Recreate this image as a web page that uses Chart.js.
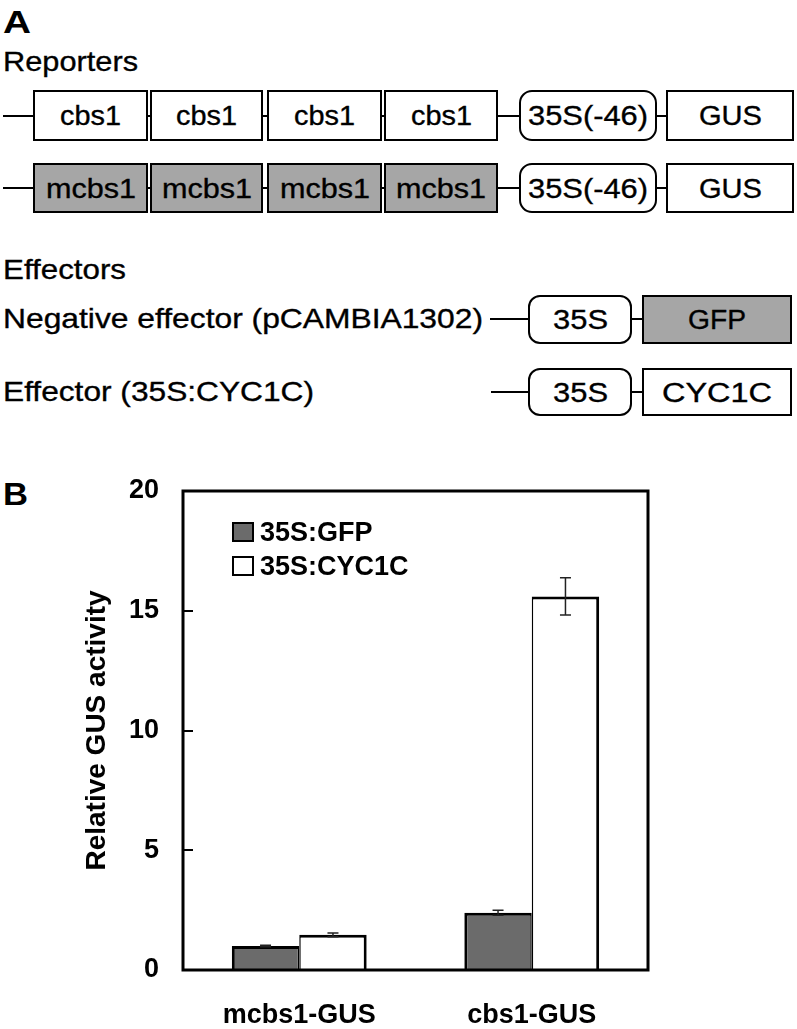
<!DOCTYPE html>
<html><head><meta charset="utf-8">
<script src="https://cdn.jsdelivr.net/npm/chart.js@4.4.1/dist/chart.umd.min.js"></script>
<style>
html,body{margin:0;padding:0;background:#fff;}
body{width:797px;height:1029px;position:relative;overflow:hidden;font-family:"Liberation Sans",Arial,sans-serif;color:#000;}
.t{position:absolute;white-space:nowrap;line-height:1;transform-origin:0 0;-webkit-text-stroke:0.35px #000;}
.b{position:absolute;box-sizing:border-box;border:2px solid #000;background:#fff;}
.l{position:absolute;height:2px;background:#000;}
#chartBox{position:absolute;left:0;top:470px;width:797px;height:559px;}
</style></head><body>
<div id="diagram"></div>
<div id="chartBox"><canvas id="c" width="797" height="559"></canvas></div>
<script>
// ---- chart data ----
const categories = ['mcbs1-GUS', 'cbs1-GUS'];
const seriesNames = ['35S:GFP', '35S:CYC1C'];
const gfpValues = [1.0, 2.39];
const gfpErrors = [0.03, 0.10];
const cyc1cValues = [1.47, 15.6];
const cyc1cErrors = [0.08, 0.78];
const yTickValues = [0, 5, 10, 15, 20];
const yTitle = 'Relative GUS activity';

// ---- panel A diagram (HTML) ----
const D = document.getElementById('diagram');
function txt(s, x, base, fs, w, bold, center) {
  const e = document.createElement('span');
  e.className = 't'; e.textContent = s;
  e.style.fontSize = fs + 'px'; e.style.fontWeight = bold ? '700' : '400';
  if (bold) e.style.webkitTextStroke = '0px';
  D.appendChild(e);
  const nat = e.getBoundingClientRect().width;
  e.style.left = (center ? x - w / 2 : x) + 'px';
  e.style.top = (base - 0.8465 * fs) + 'px';
  e.style.transform = 'scaleX(' + (w / nat) + ')';
}
function line(x1, x2, y) {
  const e = document.createElement('div'); e.className = 'l';
  e.style.left = x1 + 'px'; e.style.width = (x2 - x1) + 'px'; e.style.top = (y - 1) + 'px';
  D.appendChild(e);
}
function box(x1, y1, x2, y2, label, tw, baseOff, fill, r) {
  const e = document.createElement('div'); e.className = 'b';
  e.style.left = x1 + 'px'; e.style.top = y1 + 'px';
  e.style.width = (x2 - x1) + 'px'; e.style.height = (y2 - y1) + 'px';
  if (fill) e.style.background = fill;
  if (r) e.style.borderRadius = r + 'px';
  D.appendChild(e);
  txt(label, (x1 + x2) / 2, y1 + baseOff, 27, tw, false, true);
}
const GRAY = '#a6a6a6';
txt('A', 3, 33, 32, 28, true, false);
txt('Reporters', 3, 72, 28, 135, false, false);
// reporter rows
[[90, 141, 'cbs1', 61, 36, null], [163, 213, 'mcbs1', 90, 35.5, GRAY]].forEach(([y1, y2, lab, tw, bo, fill]) => {
  line(3, 670, (y1 + y2) / 2);
  [[33, 148], [150, 263], [267, 382], [384, 498]].forEach(([a, b]) => box(a, y1, b, y2, lab, tw, bo, fill, 0));
  box(519, y1, 657, y2, '35S(-46)', 120, bo, null, 13);
  box(666, y1, 794, y2, 'GUS', 63, bo, null, 0);
});
txt('Effectors', 3, 280, 28, 123, false, false);
txt('Negative effector (pCAMBIA1302)', 3, 329, 28, 480, false, false);
line(490, 645, 319);
box(528, 295, 632, 344, '35S', 55, 35, null, 12);
box(642, 295, 792, 344, 'GFP', 58, 35, GRAY, 0);
txt('Effector (35S:CYC1C)', 3, 402, 28, 311, false, false);
line(491, 645, 392);
box(528, 368, 632, 416, '35S', 55, 34.5, null, 12);
box(642, 368, 792, 416, 'CYC1C', 110, 34.5, null, 0);
txt('B', 3, 505, 31, 25, true, false);

// ---- panel B chart (Chart.js) ----
const FAM = '"Liberation Sans", Arial, sans-serif';
Chart.defaults.font.family = FAM;
Chart.defaults.color = '#000';

const framePlugin = {
  id: 'frame',
  afterDatasetsDraw(chart) {
    const { ctx, chartArea: a } = chart;
    ctx.save(); ctx.lineWidth = 3; ctx.strokeStyle = '#000';
    ctx.strokeRect(a.left, a.top, a.right - a.left, a.bottom - a.top);
    ctx.restore();
  }
};
const errorPlugin = {
  id: 'errbars',
  afterDatasetsDraw(chart) {
    const { ctx } = chart; const ys = chart.scales.y;
    ctx.save(); ctx.strokeStyle = '#222'; ctx.lineWidth = 1.5;
    chart.data.datasets.forEach((ds, i) => {
      chart.getDatasetMeta(i).data.forEach((bar, j) => {
        const v = ds.data[j], e = ds.errors[j];
        const t = ys.getPixelForValue(v + e), b = ys.getPixelForValue(v - e), x = bar.x;
        ctx.beginPath();
        ctx.moveTo(x, t); ctx.lineTo(x, b);
        ctx.moveTo(x - 5.5, t); ctx.lineTo(x + 5.5, t);
        ctx.moveTo(x - 5.5, b); ctx.lineTo(x + 5.5, b);
        ctx.stroke();
      });
    });
    ctx.restore();
  }
};
const legendPlugin = {
  id: 'boxLegend',
  afterDraw(chart) {
    const { ctx, chartArea: a } = chart;
    ctx.save();
    chart.data.datasets.forEach((ds, i) => {
      const x = a.left + 50, y = a.top + 32 + i * 34;
      ctx.fillStyle = ds.backgroundColor; ctx.fillRect(x, y, 20, 18);
      ctx.lineWidth = 2; ctx.strokeStyle = '#000'; ctx.strokeRect(x, y, 20, 18);
      ctx.fillStyle = '#000'; ctx.font = 'bold 27px ' + FAM; ctx.textBaseline = 'alphabetic';
      ctx.fillText(ds.label, x + 27, y + 18);
    });
    ctx.restore();
  }
};

new Chart(document.getElementById('c'), {
  type: 'bar',
  data: {
    labels: categories,
    datasets: [
      { label: seriesNames[0], data: gfpValues, errors: gfpErrors, backgroundColor: '#6b6b6b', borderColor: '#000',
        borderWidth: { left: 3, top: 3, right: 1.5, bottom: 0 }, borderSkipped: false },
      { label: seriesNames[1], data: cyc1cValues, errors: cyc1cErrors, backgroundColor: '#ffffff', borderColor: '#000',
        borderWidth: { left: 1.5, top: 3, right: 3, bottom: 0 }, borderSkipped: false }
    ]
  },
  options: {
    responsive: false, animation: false,
    layout: { padding: { left: 0, right: 149, top: 21, bottom: 0 } },
    datasets: { bar: { barPercentage: 1, categoryPercentage: 0.58 } },
    plugins: { legend: { display: false }, tooltip: { enabled: false } },
    scales: {
      x: {
        grid: { display: false, drawTicks: false }, border: { display: false },
        ticks: { font: { size: 27, weight: 'bold' }, color: '#000', padding: 29 },
        afterFit(s) { s.height = 59; s.paddingLeft = 0; s.paddingRight = 0; }
      },
      y: {
        min: 0, max: 20,
        afterBuildTicks(s) { s.ticks = yTickValues.map(v => ({ value: v })); },
        grid: { drawOnChartArea: false, drawTicks: true, tickLength: -10, color: '#000', lineWidth: 2 },
        border: { display: false },
        ticks: { font: { size: 27, weight: 'bold' }, color: '#000', padding: 34 },
        title: { display: true, text: yTitle, font: { size: 28, weight: 'bold' }, color: '#000', padding: { top: 80, bottom: 0 } },
        afterFit(s) { s.width = 183; s.paddingTop = 0; s.paddingBottom = 0; }
      }
    }
  },
  plugins: [errorPlugin, framePlugin, legendPlugin]
});
</script>
</body></html>
